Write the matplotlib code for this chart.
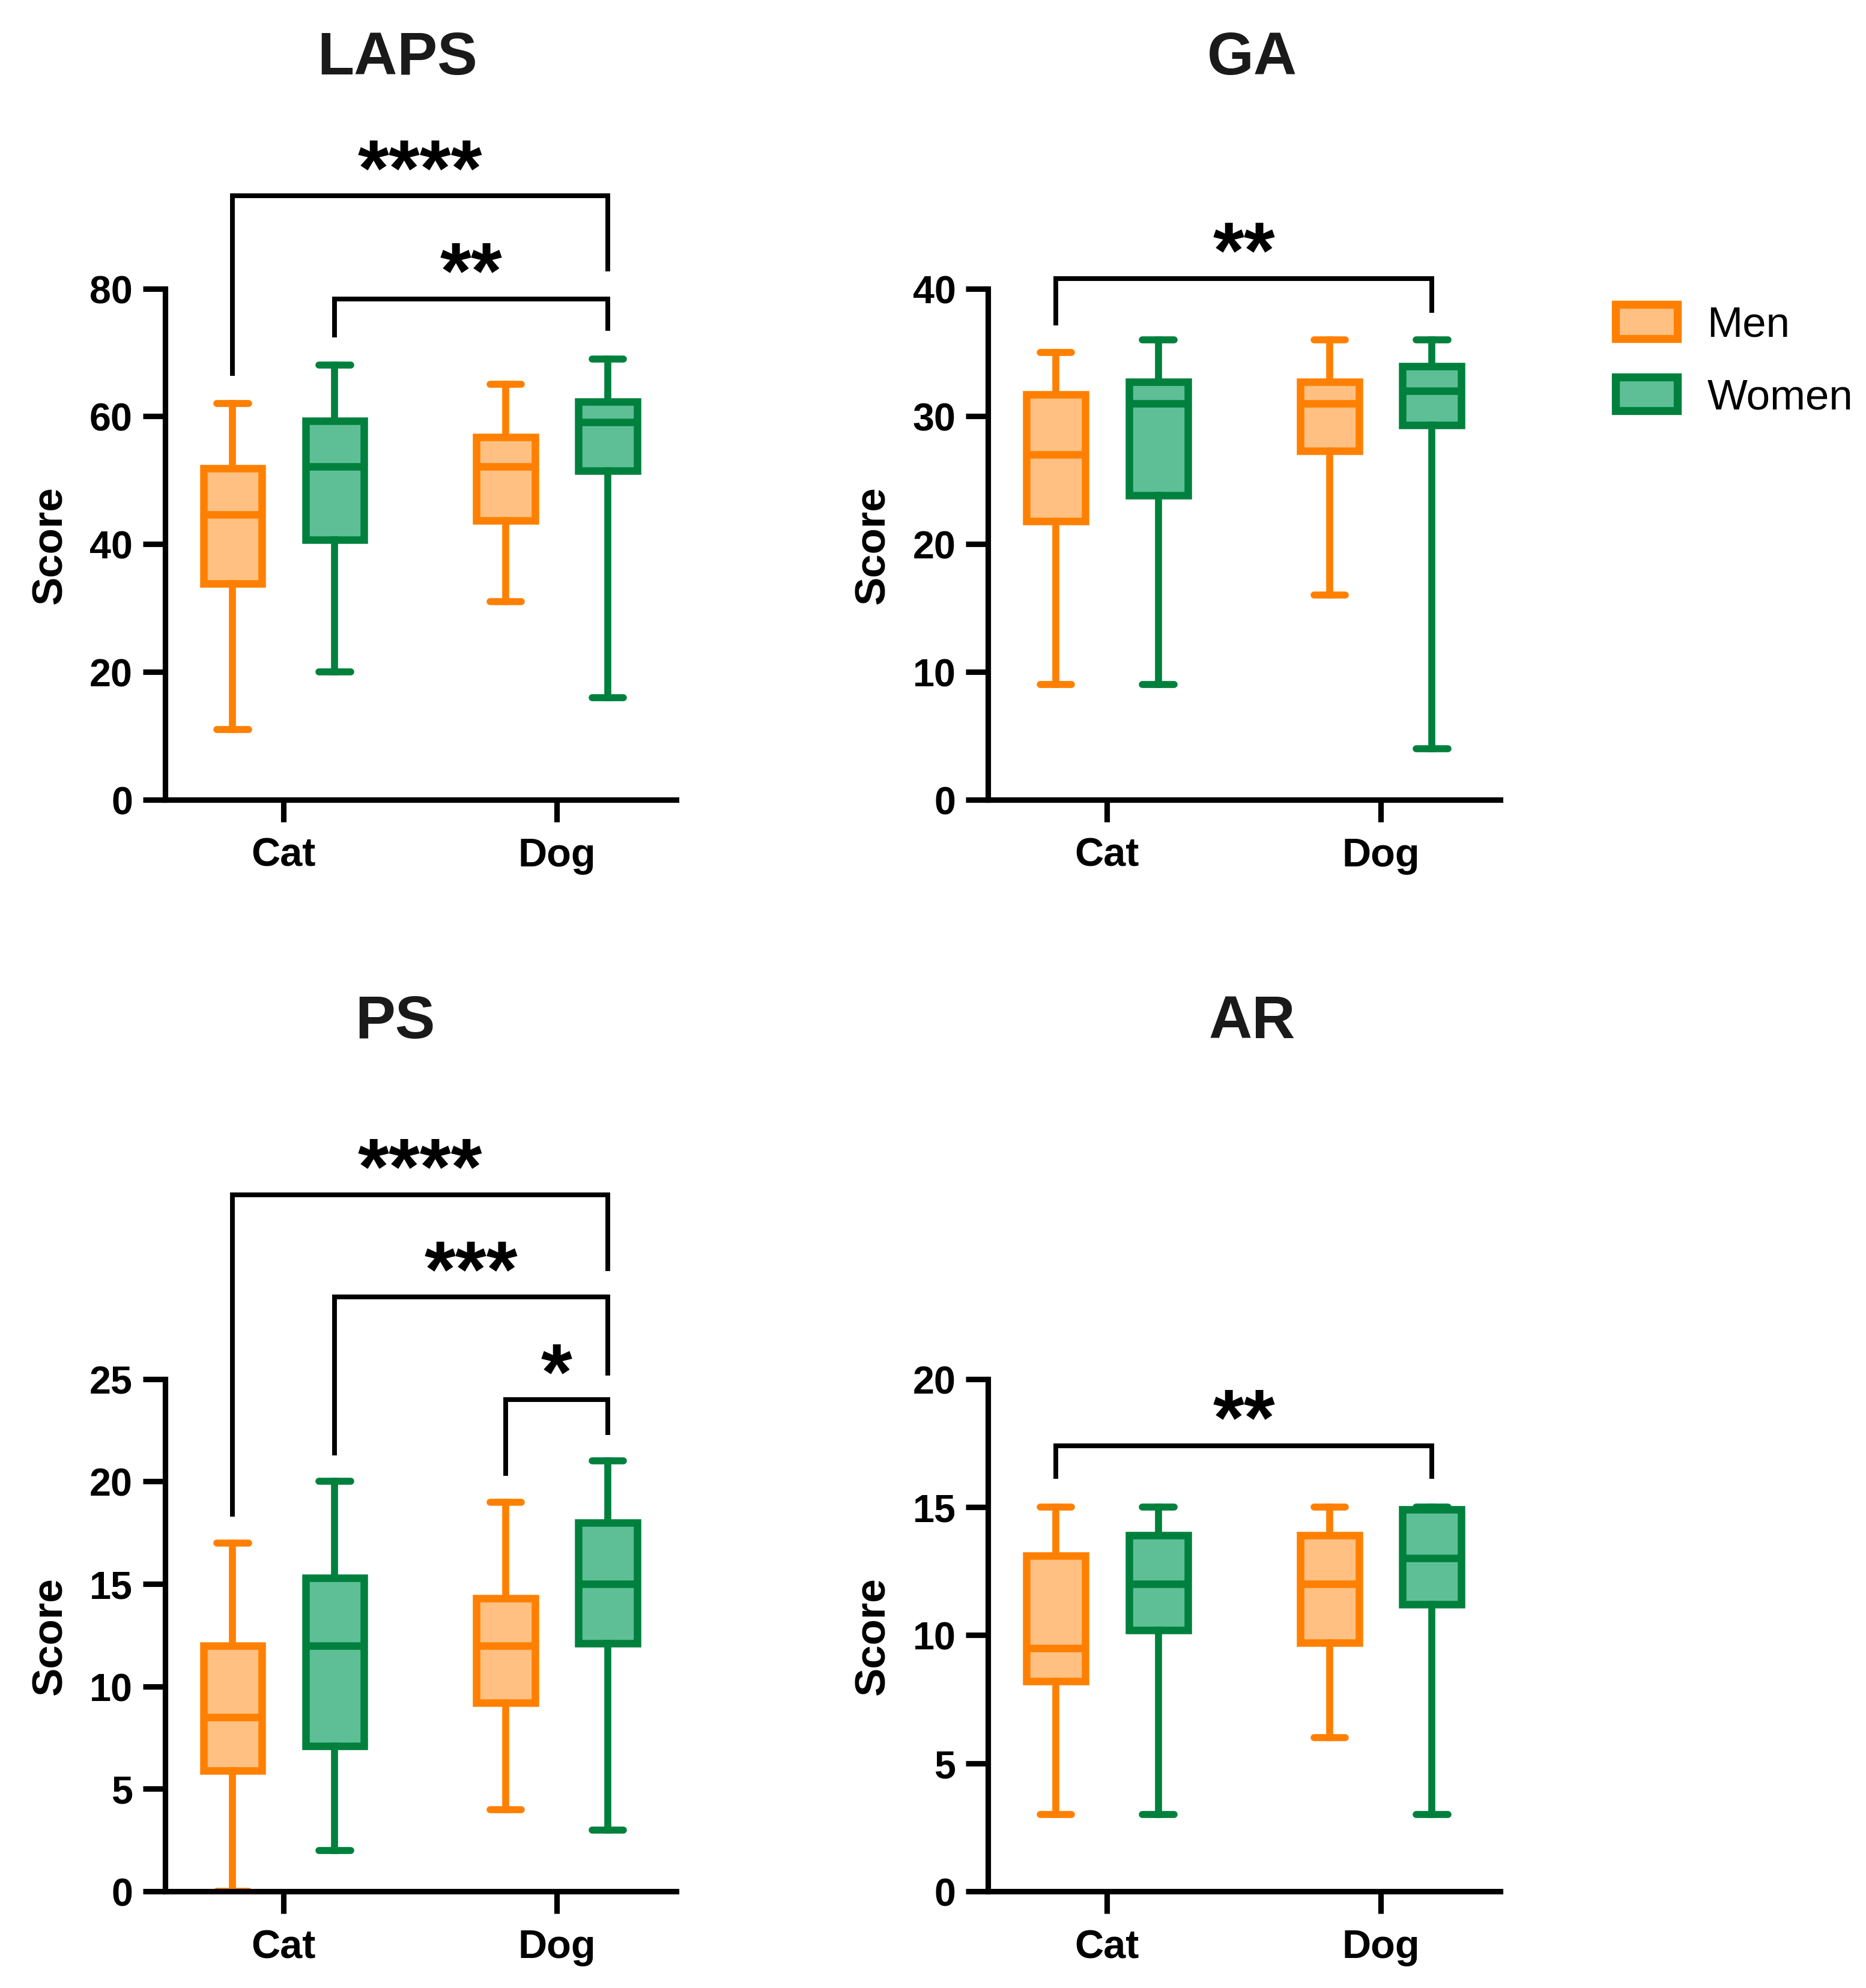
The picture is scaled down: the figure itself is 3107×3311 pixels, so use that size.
# Box plots of LAPS / GA / PS / AR scores for cat and dog owners, split by gender

# Imports
import matplotlib
matplotlib.use("Agg")
import matplotlib.pyplot as plt
from matplotlib.patches import Patch

# Categories and groups
pets = ["Cat", "Dog"]
groups = ["Men", "Women"]

# Box stats: [min, q1, median, q3, max], one row per pet (Cat, Dog)
laps_men = [[11, 33.8, 44.6, 51.9, 62], [31, 43.7, 52.1, 56.7, 65]]
laps_women = [[20, 40.7, 52.1, 59.3, 68], [16, 51.5, 59.1, 62.3, 69]]
ga_men = [[9, 21.8, 27, 31.7, 35], [16, 27.3, 31, 32.7, 36]]
ga_women = [[9, 23.8, 31, 32.7, 36], [4, 29.3, 32, 33.9, 36]]
ps_men = [[0, 5.9, 8.5, 12.0, 17], [4, 9.2, 12, 14.3, 19]]
ps_women = [[2, 7.1, 12, 15.3, 20], [3, 12.1, 15, 18.0, 21]]
ar_men = [[3, 8.2, 9.5, 13.1, 15], [6, 9.7, 12, 13.9, 15]]
ar_women = [[3, 10.2, 12, 13.9, 15], [3, 11.2, 13, 14.9, 15]]

# Significance brackets: (from box, to box, bracket height, left leg end, right leg end, stars)
# boxes are numbered 0 = Men Cat, 1 = Women Cat, 2 = Men Dog, 3 = Women Dog
laps_sig = [(0, 3, 94.5, 66.7, 83.1, "****"), (1, 3, 78.4, 72.7, 73.8, "**")]
ga_sig = [(0, 3, 40.8, 37.3, 38.3, "**")]
ps_sig = [(0, 3, 34.0, 18.4, 30.4, "****"), (1, 3, 29.0, 21.4, 25.3, "***"),
          (2, 3, 24.0, 20.4, 22.4, "*")]
ar_sig = [(0, 3, 17.4, 16.2, 16.2, "**")]

# Y axis limits and ticks
laps_ticks = [0, 20, 40, 60, 80]
ga_ticks = [0, 10, 20, 30, 40]
ps_ticks = [0, 5, 10, 15, 20, 25]
ar_ticks = [0, 5, 10, 15, 20]

edge_colors = {"Men": "#FF8000", "Women": "#00803D"}
fill_colors = {"Men": "#FFC082", "Women": "#5EBF96"}

plt.rcParams["font.family"] = ["Liberation Sans", "DejaVu Sans"]
plt.rcParams["font.weight"] = "bold"

OFFSET = 0.187


def box_positions():
    # Men left of the pet tick, women right of it
    pos = []
    for i in range(len(pets)):
        pos.append([i - OFFSET, i + OFFSET])
    return pos


def draw_panel(ax, men, women, ticks, sig):
    pos = box_positions()
    centers = [pos[0][0], pos[0][1], pos[1][0], pos[1][1]]

    for name, data in (("Men", men), ("Women", women)):
        col = 0 if name == "Men" else 1
        stats = []
        for row in data:
            stats.append(dict(whislo=row[0], q1=row[1], med=row[2], q3=row[3],
                              whishi=row[4], label=""))
        edge = edge_colors[name]
        ax.bxp(stats, positions=[pos[i][col] for i in range(len(pets))],
               widths=0.215, capwidths=0.115, patch_artist=True,
               showfliers=False, manage_ticks=False,
               boxprops=dict(facecolor=fill_colors[name], edgecolor=edge,
                             linewidth=3.0, joinstyle="miter"),
               whiskerprops=dict(color=edge, linewidth=2.8),
               capprops=dict(color=edge, linewidth=2.8, solid_capstyle="round"),
               medianprops=dict(color=edge, linewidth=3.0))

    # Brackets with stars, drawn above the axes
    for a, b, y, left_end, right_end, stars in sig:
        xa = centers[a]
        xb = centers[b]
        ax.plot([xa, xa, xb, xb], [left_end, y, y, right_end], color="black",
                linewidth=1.9, clip_on=False, solid_joinstyle="miter")
        ax.annotate(stars, xy=((xa + xb) / 2, y), xytext=(0, 0.5),
                    textcoords="offset points", ha="center", va="baseline",
                    fontsize=32, fontweight="bold", annotation_clip=False)

    ax.set_xlim(-0.435, 1.437)
    ax.set_ylim(ticks[0], ticks[-1])
    ax.set_yticks(ticks)
    ax.set_xticks(range(len(pets)))
    ax.set_xticklabels(pets, fontsize=16, fontweight="bold")
    for lab in ax.get_yticklabels():
        lab.set_fontsize(15.5)
        lab.set_fontweight("bold")

    ax.spines["top"].set_visible(False)
    ax.spines["right"].set_visible(False)
    ax.spines["left"].set_linewidth(2.2)
    ax.spines["bottom"].set_linewidth(2.2)
    ax.tick_params(axis="both", direction="out", length=8.9, width=2.2, pad=4)
    ax.tick_params(axis="x", pad=6)

    ax.set_ylabel("Score", fontsize=17, fontweight="bold")
    ax.yaxis.set_label_coords(-0.185, 0.5)


def main():
    fig = plt.figure(figsize=(3107 / 300, 3312 / 300), dpi=300)

    ax1 = fig.add_axes([0.0884, 0.5976, 0.2739, 0.2570])
    ax2 = fig.add_axes([0.5295, 0.5976, 0.2746, 0.2570])
    ax3 = fig.add_axes([0.0884, 0.0486, 0.2739, 0.2576])
    ax4 = fig.add_axes([0.5295, 0.0486, 0.2746, 0.2576])

    draw_panel(ax1, laps_men, laps_women, laps_ticks, laps_sig)
    draw_panel(ax2, ga_men, ga_women, ga_ticks, ga_sig)
    draw_panel(ax3, ps_men, ps_women, ps_ticks, ps_sig)
    draw_panel(ax4, ar_men, ar_women, ar_ticks, ar_sig)

    # Panel titles
    fig.text(0.2128, 0.9705, "LAPS", ha="center", va="center", fontsize=24, fontweight="bold", color="#1a1a1a")
    fig.text(0.6710, 0.9705, "GA", ha="center", va="center", fontsize=24, fontweight="bold", color="#1a1a1a")
    fig.text(0.2118, 0.4858, "PS", ha="center", va="center", fontsize=24, fontweight="bold", color="#1a1a1a")
    fig.text(0.6710, 0.4858, "AR", ha="center", va="center", fontsize=24, fontweight="bold", color="#1a1a1a")

    # Legend
    handles = []
    for g in groups:
        handles.append(Patch(facecolor=fill_colors[g], edgecolor=edge_colors[g],
                             linewidth=3.2, joinstyle="miter"))
    fig.legend(handles, groups, loc="upper left", bbox_to_anchor=(0.8658, 0.8466),
               frameon=False, borderpad=0, borderaxespad=0, handlelength=1.45,
               handleheight=0.85, handletextpad=0.7, labelspacing=0.75,
               prop=dict(family="Liberation Sans", weight="normal", size=17))

    fig.savefig("out.png", dpi=300, facecolor="white")


if __name__ == "__main__":
    main()
